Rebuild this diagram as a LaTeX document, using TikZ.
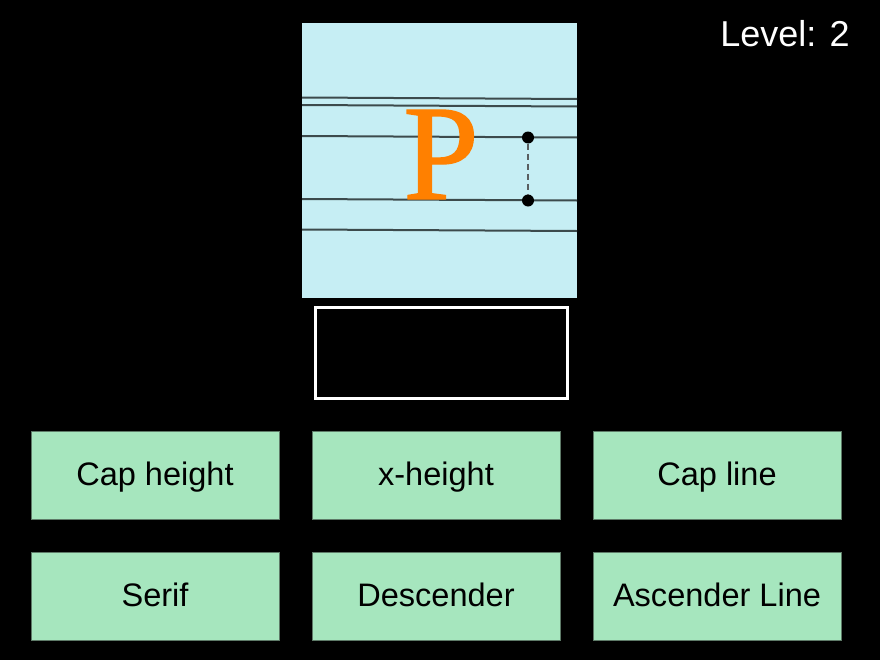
\documentclass[tikz,border=0pt]{standalone}
\usepackage{fontspec}
\setmainfont{Liberation Sans}
\newfontfamily\serifP[FakeBold=1]{Liberation Serif}
\definecolor{panelbg}{HTML}{C6EEF4}
\definecolor{guide}{HTML}{3C4A4C}
\definecolor{dashc}{HTML}{5A5E60}
\definecolor{letter}{HTML}{FF8000}
\definecolor{btn}{HTML}{A6E6BE}
\definecolor{btnedge}{HTML}{5E7A68}
\tikzset{
  px/.style={x=0.75pt,y=-0.75pt},
  guideline/.style={draw=guide,line width=1.5pt},
  choice/.style={fill=btn,draw=btnedge,line width=0.6pt,minimum width=186pt,minimum height=65.5pt,inner sep=0pt,text height=17.5pt,text depth=2.7pt,font=\fontsize{24.4}{27}\selectfont,text=black},
  dotmark/.style={circle,fill=black,inner sep=0pt,minimum size=9pt}
}
\begin{document}
\begin{tikzpicture}[px]
\fill[black] (0,0) rectangle (880,660);
\useasboundingbox (0,0) rectangle (880,660);
% panel
\node[fill=panelbg,inner sep=0pt,minimum width=206.25pt,minimum height=206.25pt,anchor=north west] (panel) at (302,23) {};
\draw[guideline] (302,97.5) coordinate (l1a) -- (577,99) coordinate (l1b);
\draw[guideline] (302,105) coordinate (l2a) -- (577,106.5) coordinate (l2b);
\draw[guideline] (302,136) coordinate (l3a) -- (577,137.5) coordinate (l3b);
\draw[guideline] (302,199) coordinate (l4a) -- (577,200.5) coordinate (l4b);
\draw[guideline] (302,229.5) coordinate (l5a) -- (577,231) coordinate (l5b);
\node[anchor=base,inner sep=0pt,text=letter,font=\serifP\fontsize{102}{102}\selectfont] (P) at (441,199) {P};
\node[dotmark] (d1) at (528,137.5) {};
\node[dotmark] (d2) at (528,200.5) {};
\draw[dashc,line width=1.5pt,dash pattern=on 4.5pt off 3pt] (d1) -- (d2);
% answer box
\node[draw=white,line width=2.4pt,fill=black,minimum width=189pt,minimum height=68.25pt,inner sep=0pt,anchor=north west] (answer) at (313.5,305.5) {};
% level
\node[anchor=base east,text=white,inner sep=0pt,font=\fontsize{27}{30}\selectfont] (level) at (850,47) {Level: 2};
% choices
\node[choice] (c1) at (155,475.5) {Cap height};
\node[choice] (c2) at (436,475.5) {x-height};
\node[choice] (c3) at (717,475.5) {Cap line};
\node[choice] (c4) at (155,596.5) {Serif};
\node[choice] (c5) at (436,596.5) {Descender};
\node[choice] (c6) at (717,596.5) {Ascender Line};
\end{tikzpicture}
\end{document}
